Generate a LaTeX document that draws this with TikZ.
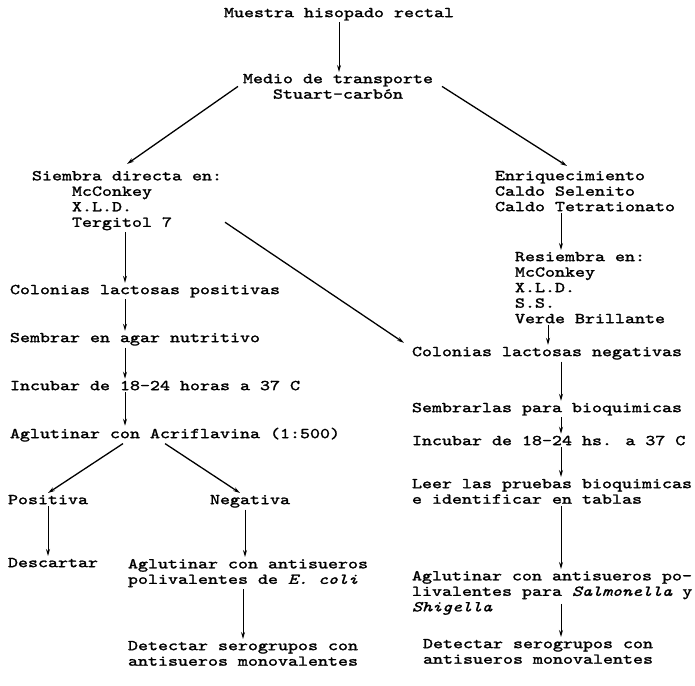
\documentclass[tikz,border=0pt]{standalone}
\usepackage{fontspec}
% typewriter face, widened to 10pt per character and darkened
\newfontfamily\tw{lmmono10-regular.otf}[FakeStretch=1.27, FakeBold=1.6, ItalicFont=lmmono10-italic.otf]
\usetikzlibrary{arrows.meta,calc}

\begin{document}
\begin{tikzpicture}[x=1pt,y=-1pt,
  txt/.style={font=\tw\fontsize{15}{15.5}\selectfont, inner xsep=0pt, inner ysep=2pt,
              outer sep=0pt, align=left},
  arr/.style={draw, line width=1pt, -{Stealth[length=7pt,width=4pt]}},
  diag/.style={arr, line width=1.3pt}]
\fill[white] (0,0) rectangle (695,685);
\useasboundingbox (0,0) rectangle (695,685);

% columns of the vertical connectors
\coordinate (cL) at (125,0);
\coordinate (cR) at (561,0);
\coordinate (cR2) at (548,0);

% top
\node[txt, anchor=mid west] (muestra) at (224,15) {Muestra hisopado rectal};
\node[txt, anchor=north, align=center] (medio) at (338,72) {Medio de transporte\\Stuart-carbón};

% left branch
\node[txt, anchor=north west] (siembra) at (32,169)
  {Siembra directa en:\\\hspace*{40pt}McConkey\\\hspace*{40pt}X.L.D.\\\hspace*{40pt}Tergitol 7};
\node[txt, anchor=mid west] (colpos) at (10,292) {Colonias lactosas positivas};
\node[txt, anchor=mid west] (sembrar) at (10,340) {Sembrar en agar nutritivo};
\node[txt, anchor=mid west] (incub1) at (10,388) {Incubar de 18-24 horas a 37 C};
\node[txt, anchor=mid west] (aglu1) at (10,436) {Aglutinar con Acriflavina (1:500)};
\node[txt, anchor=mid west] (pos) at (8,502) {Positiva};
\node[txt, anchor=mid west] (neg) at (210,502) {Negativa};
\node[txt, anchor=mid west] (desc) at (8,565) {Descartar};
\node[txt, anchor=north west] (aglu2) at (128,557)
  {Aglutinar con antisueros\\polivalentes de \textit{E. coli}};
\node[txt, anchor=north west] (det1) at (128,639)
  {Detectar serogrupos con\\antisueros monovalentes};

% right branch
\node[txt, anchor=north west] (enriq) at (495,169)
  {Enriquecimiento\\Caldo Selenito\\Caldo Tetrationato};
\node[txt, anchor=north west] (resiembra) at (515,250)
  {Resiembra en:\\McConkey\\X.L.D.\\S.S.\\Verde Brillante};
\node[txt, anchor=mid west] (colneg) at (412,354) {Colonias lactosas negativas};
\node[txt, anchor=mid west] (sembr2) at (412,410) {Sembrarlas para bioquimicas};
\node[txt, anchor=mid west] (incub2) at (412,443) {Incubar de 18-24 hs. a 37 C};
\node[txt, anchor=north west] (leer) at (412,477)
  {Leer las pruebas bioquimicas\\e identificar en tablas};
\node[txt, anchor=north west] (aglu3) at (412,569)
  {Aglutinar con antisueros po-\\livalentes para \textit{Salmonella} y\\\textit{Shigella}};
\node[txt, anchor=north west] (det2) at (423,637)
  {Detectar serogrupos con\\antisueros monovalentes};

% connectors
\draw[arr] (muestra.south) -- (muestra.south |- medio.north);
\draw[diag] ([xshift=-5pt]medio.west) -- ([yshift=5pt]siembra.north);
\draw[diag] ([xshift=9pt]medio.east) -- ($(enriq.north west)+(72,-3)$);

\draw[arr] (siembra.south -| cL) -- (colpos.north -| cL);
\draw[diag] ($(siembra.south east)+(3,-10)$) -- ($(colneg.north west)+(-8,-2)$);
\draw[arr] (colpos.south -| cL) -- (sembrar.north -| cL);
\draw[arr] (sembrar.south -| cL) -- (incub1.north -| cL);
\draw[arr] (incub1.south -| cL) -- (aglu1.north -| cL);
\draw[diag] ([xshift=-52pt]aglu1.south) -- (pos.north);
\draw[diag] ([xshift=-10pt]aglu1.south) -- ([xshift=-10pt]neg.north);
\draw[arr] (pos.south) -- (pos.south |- desc.north);
\draw[arr] ([xshift=-5pt]neg.south) -- ([xshift=-5pt]neg.south |- aglu2.north);
\draw[arr] (aglu2.south -| det1.north) -- (det1.north);

\draw[arr] (enriq.south -| cR) -- (resiembra.north -| cR);
\draw[arr] (resiembra.south -| cR2) -- (colneg.north -| cR2);
\draw[arr] (colneg.south -| cR) -- (sembr2.north -| cR);
\draw[arr] (sembr2.south -| cR) -- (incub2.north -| cR);
\draw[arr] (incub2.south -| cR) -- (leer.north -| cR);
\draw[arr] (leer.south -| cR) -- (aglu3.north -| cR);
\draw[arr] ([yshift=13pt]aglu3.south -| cR) -- (det2.north -| cR);
\end{tikzpicture}
\end{document}
